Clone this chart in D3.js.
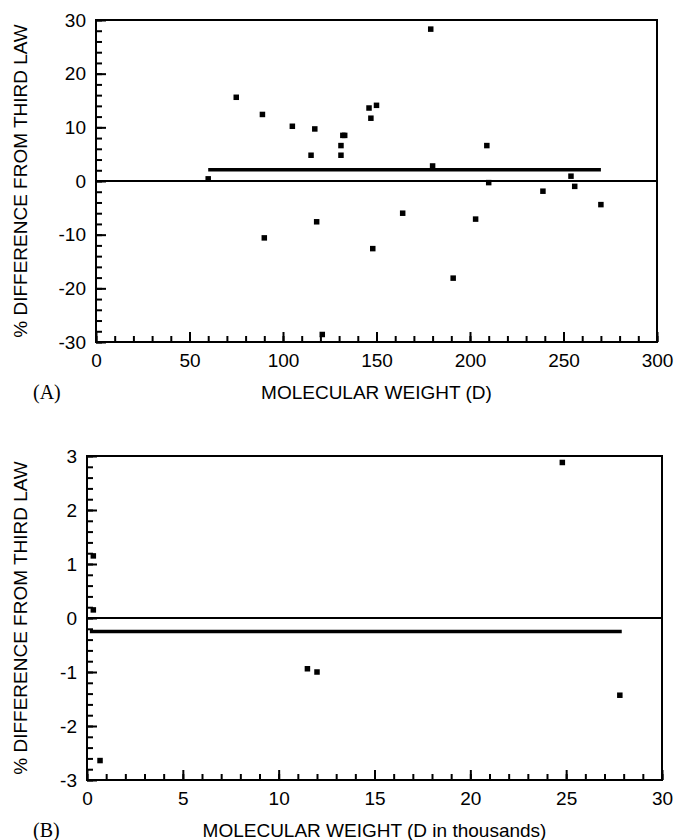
<!DOCTYPE html>
<html>
<head>
<meta charset="utf-8">
<script src="https://cdn.jsdelivr.net/npm/d3@7"></script>
<style>
  body { margin: 0; background: #fff; }
  text { font-family: "Liberation Sans", Arial, sans-serif; fill: #000; }
</style>
</head>
<body>
<div id="chart"></div>
<script>
// panel A: molecular weight (D) vs % difference
var mwA = [60, 75, 89, 90, 105, 115, 117, 118, 121, 131, 131, 132, 133, 146, 147, 148, 150, 164, 179, 180, 191, 203, 209, 210, 239, 254, 256, 270];
var diffA = [0.4, 15.6, 12.4, -10.6, 10.2, 4.8, 9.7, -7.6, -28.6, 4.8, 6.6, 8.5, 8.5, 13.6, 11.7, -12.6, 14.1, -6.0, 28.3, 2.8, -18.1, -7.1, 6.6, -0.3, -1.9, 0.9, -1.0, -4.4];
var meanA = {x0: 60, x1: 270, y: 2.1};

// panel B: molecular weight (D in thousands) vs % difference
var mwB = [0.33, 0.33, 0.68, 11.5, 12.0, 24.8, 27.8];
var diffB = [1.15, 0.15, -2.64, -0.94, -1.0, 2.88, -1.43];
var meanB = {x0: 0.15, x1: 27.9, y: -0.25};

var ticksA_x = [0, 50, 100, 150, 200, 250, 300];
var ticksA_y = [-30, -20, -10, 0, 10, 20, 30];
var ticksB_x = [0, 5, 10, 15, 20, 25, 30];
var ticksB_y = [-3, -2, -1, 0, 1, 2, 3];

var svg = d3.select("#chart")
    .append("svg")
    .attr("width", 674)
    .attr("height", 840);

// plain hyphen for negatives, like the original
var fmt = function(d) { return String(d); };

function drawPanel(p) {
    var g = svg.append("g")
        .attr("transform", "translate(" + p.left + "," + p.top + ")");

    var x = d3.scaleLinear().domain(p.xDomain).range([0, p.width]);
    var y = d3.scaleLinear().domain(p.yDomain).range([p.height, 0]);

    var xMinor = d3.range(0, Math.round((p.xDomain[1] - p.xDomain[0]) / p.xMinor) + 1)
        .map(function(i) { return p.xDomain[0] + i * p.xMinor; });
    var yMinor = d3.range(0, Math.round((p.yDomain[1] - p.yDomain[0]) / p.yMinor) + 1)
        .map(function(i) { return +(p.yDomain[0] + i * p.yMinor).toFixed(2); });

    // minor ticks pointing inward
    g.append("g")
        .attr("transform", "translate(0," + p.height + ")")
        .call(d3.axisBottom(x).tickValues(xMinor).tickSize(-6).tickSizeOuter(0).tickFormat(""));
    g.append("g")
        .call(d3.axisLeft(y).tickValues(yMinor).tickSize(-6).tickSizeOuter(0).tickFormat(""));

    // major ticks with labels
    g.append("g")
        .attr("transform", "translate(0," + p.height + ")")
        .call(d3.axisBottom(x).tickValues(p.xTicks).tickSize(-10).tickSizeOuter(0).tickPadding(12).tickFormat(fmt))
        .selectAll("text").style("font-size", "19px");
    g.append("g")
        .call(d3.axisLeft(y).tickValues(p.yTicks).tickSize(-10).tickSizeOuter(0).tickPadding(10).tickFormat(fmt))
        .selectAll("text").style("font-size", "19px");

    g.selectAll(".domain").remove();
    g.selectAll(".tick line").attr("stroke", "#000").attr("stroke-width", 2);

    // frame
    g.append("rect")
        .attr("width", p.width)
        .attr("height", p.height)
        .attr("fill", "none")
        .attr("stroke", "#000")
        .attr("stroke-width", 2);

    // zero line
    g.append("line")
        .attr("x1", 0).attr("x2", p.width)
        .attr("y1", y(0)).attr("y2", y(0))
        .attr("stroke", "#000").attr("stroke-width", 1.8);

    // mean line
    g.append("line")
        .attr("x1", x(p.mean.x0)).attr("x2", x(p.mean.x1))
        .attr("y1", y(p.mean.y)).attr("y2", y(p.mean.y))
        .attr("stroke", "#000").attr("stroke-width", 3.5);

    // points
    var s = 5.5;
    g.selectAll(".pt")
        .data(p.xs.map(function(d, i) { return [d, p.ys[i]]; }))
        .enter()
        .append("rect")
        .attr("class", "pt")
        .attr("x", function(d) { return x(d[0]) - s / 2; })
        .attr("y", function(d) { return y(d[1]) - s / 2; })
        .attr("width", s)
        .attr("height", s)
        .attr("fill", "#000");

    // axis titles
    g.append("text")
        .attr("transform", "translate(" + (20 - p.left) + "," + (p.height / 2) + ") rotate(-90)")
        .attr("text-anchor", "middle")
        .attr("dy", "0.35em")
        .style("font-size", "19px")
        .text("% DIFFERENCE FROM THIRD LAW");

    g.append("text")
        .attr("x", p.width / 2)
        .attr("y", p.height + 50)
        .attr("text-anchor", "middle")
        .attr("dy", "0.35em")
        .style("font-size", "19px")
        .text(p.xTitle);

    g.append("text")
        .attr("x", 33 - p.left)
        .attr("y", p.height + 50)
        .attr("dy", "0.35em")
        .style("font-family", "'Liberation Serif', 'Times New Roman', serif")
        .style("font-size", "20px")
        .text(p.tag);
}

drawPanel({
    left: 96, top: 20, width: 561, height: 322,
    xDomain: [0, 300], yDomain: [-30, 30],
    xTicks: ticksA_x, yTicks: ticksA_y, xMinor: 10, yMinor: 2,
    xs: mwA, ys: diffA, mean: meanA,
    xTitle: "MOLECULAR WEIGHT (D)", tag: "(A)"
});

drawPanel({
    left: 87, top: 456, width: 575, height: 324,
    xDomain: [0, 30], yDomain: [-3, 3],
    xTicks: ticksB_x, yTicks: ticksB_y, xMinor: 1, yMinor: 0.2,
    xs: mwB, ys: diffB, mean: meanB,
    xTitle: "MOLECULAR WEIGHT (D in thousands)", tag: "(B)"
});
</script>
</body>
</html>
